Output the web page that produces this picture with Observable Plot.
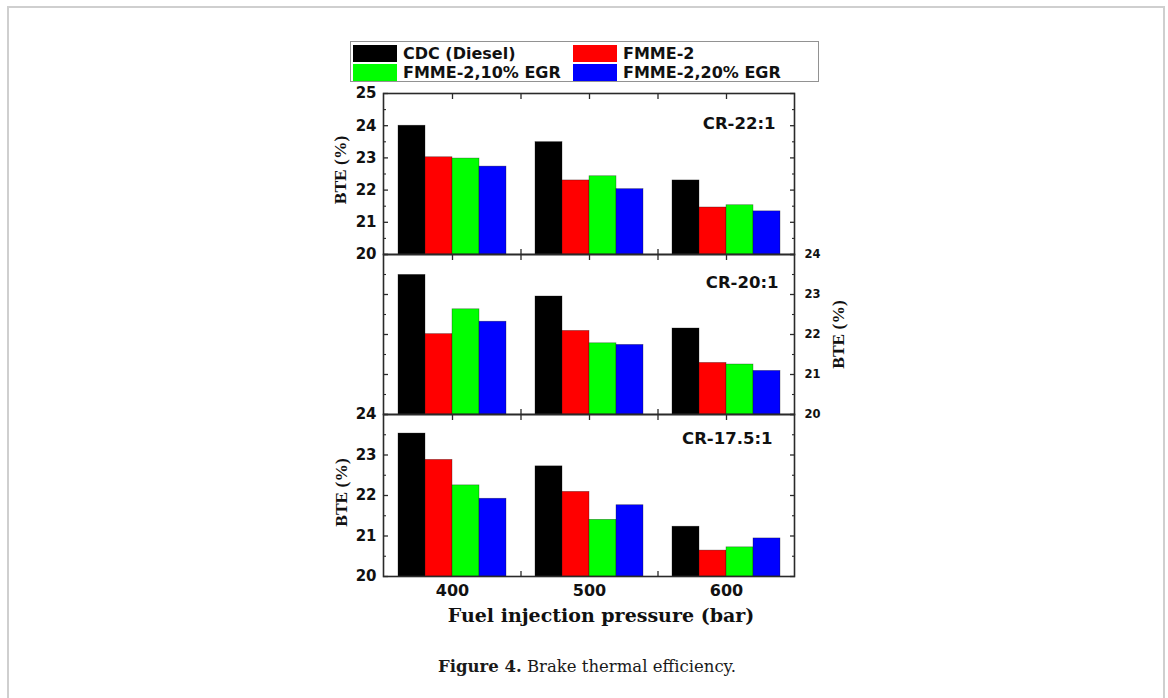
<!DOCTYPE html>
<html>
<head>
<meta charset="utf-8">
<script src="https://cdn.jsdelivr.net/npm/d3@7"></script>
<script src="https://cdn.jsdelivr.net/npm/@observablehq/plot@0.6"></script>
<style>
  body { margin: 0; background: #fff; }
  #page { position: relative; width: 1168px; height: 698px; overflow: hidden; background: #fff; }
  #border { position: absolute; left: 7px; top: 6px; width: 1158px; height: 720px; border: 2px solid #cfcfcf; box-sizing: border-box; }
  #legend { position: absolute; left: 350px; top: 41px; width: 469px; height: 41px; border: 1.5px solid #929292; box-sizing: border-box; }
  .sw { position: absolute; width: 44px; height: 17px; }
  .lt { position: absolute; font: bold 16px "DejaVu Sans"; color: #111; line-height: 17px; white-space: nowrap; }
  .layer { position: absolute; left: 320px; width: 540px; }
  #caption { position: absolute; left: 0; top: 657px; width: 1174px; text-align: center; font: 16.5px "DejaVu Serif"; line-height: 20px; color: #1a1a1a; }
</style>
</head>
<body>
<div id="page">
  <div id="border"></div>
  <div id="legend"></div>
  <div id="caption"></div>
</div>
<script>
// ---------------- data ----------------
const pressures = ["400", "500", "600"];
const series = ["CDC (Diesel)", "FMME-2", "FMME-2,10% EGR", "FMME-2,20% EGR"];
const colors = ["#000000", "#ff0000", "#00ff00", "#0000ff"];
// BTE (%) : rows = injection pressure (400, 500, 600), columns = series
const bteCR22 = [[24.00, 23.02, 22.98, 22.73], [23.49, 22.30, 22.43, 22.03], [22.30, 21.46, 21.53, 21.34]];
const bteCR20 = [[23.49, 22.01, 22.63, 22.32], [22.95, 22.09, 21.78, 21.74], [22.15, 21.29, 21.25, 21.09]];
const bteCR175 = [[23.53, 22.88, 22.25, 21.92], [22.72, 22.09, 21.40, 21.76], [21.23, 20.64, 20.72, 20.94]];
const panelLabels = ["CR-22:1", "CR-20:1", "CR-17.5:1"];
const yTicksTop = [20, 21, 22, 23, 24, 25];
const yMinorTop = [20.5, 21.5, 22.5, 23.5, 24.5];
const yTicks = [20, 21, 22, 23, 24];
const yMinor = [20.5, 21.5, 22.5, 23.5];
const yTitle = "BTE (%)";
const xTitle = "Fuel injection pressure (bar)";
const captionBold = "Figure 4.";
const captionText = " Brake thermal efficiency.";

// ---------------- legend ----------------
const page = document.getElementById("page");
const legCols = [[353, 403], [573, 623]];
const legRows = [[45, 45], [64, 64]];
series.forEach((s, i) => {
  const c = i % 2, r = Math.floor(i / 2);
  const sw = document.createElement("div");
  sw.className = "sw";
  sw.style.left = legCols[c][0] + "px";
  sw.style.top = legRows[r][0] + "px";
  sw.style.background = colors[i];
  page.appendChild(sw);
  const t = document.createElement("div");
  t.className = "lt";
  t.style.left = legCols[c][1] + "px";
  t.style.top = legRows[r][1] + "px";
  t.textContent = s;
  page.appendChild(t);
});
const cap = document.getElementById("caption");
const b = document.createElement("b");
b.textContent = captionBold;
cap.appendChild(b);
cap.appendChild(document.createTextNode(captionText));

// ---------------- panels ----------------
const W = 540, ML = 63, MR = 66;
const step = (W - ML - MR) / pressures.length;
const sans = "DejaVu Sans";
const ink = "#2a2a2a";
const intFmt = (d) => String(d);

function tidy(vals) {
  return pressures.flatMap((p, i) => series.map((s, j) => ({pressure: p, series: s, bte: vals[i][j]})));
}

function panel(o) {
  const data = tidy(o.vals);
  const common = {
    width: W, height: o.height, marginLeft: ML, marginRight: MR, marginTop: o.mt, marginBottom: o.mb,
    style: {background: "transparent", overflow: "visible"}
  };
  // bars layer (grouped via fx facets)
  const bars = Plot.plot({
    ...common,
    fx: {domain: pressures, paddingInner: 0.2, paddingOuter: 0.1, axis: null, label: null},
    x: {domain: series, padding: 0, axis: null},
    y: {domain: o.domain, axis: null},
    color: {domain: series, range: colors},
    marks: [
      Plot.barY(data, {fx: "pressure", x: "series", y1: o.domain[0], y2: "bte", fill: "series",
        stroke: "#111", strokeWidth: 0.6, strokeOpacity: 0.5})
    ]
  });
  // frame / axes layer
  const marks = [
    Plot.frame({stroke: ink, strokeWidth: 1.6}),
    Plot.axisY({anchor: "left", ticks: o.major, tickSize: -5, fill: "none", label: null, stroke: ink, strokeWidth: 1.3}),
    Plot.axisY({anchor: "left", ticks: o.minor, tickSize: -3, fill: "none", label: null, stroke: ink, strokeWidth: 1.1}),
    Plot.axisY({anchor: "right", ticks: o.major, tickSize: -5, fill: "none", label: null, stroke: ink, strokeWidth: 1.3}),
    Plot.axisY({anchor: "right", ticks: o.minor, tickSize: -3, fill: "none", label: null, stroke: ink, strokeWidth: 1.1}),
    Plot.axisX({anchor: "top", tickSize: -5, fill: "none", label: null, stroke: ink, strokeWidth: 1.3}),
    Plot.axisX({anchor: "top", ticks: pressures.slice(0, -1), dx: step / 2, tickSize: -5, fill: "none", label: null, stroke: ink, strokeWidth: 1.3}),
    Plot.axisX({anchor: "bottom", ticks: pressures.slice(0, -1), dx: step / 2, tickSize: -5, fill: "none", label: null, stroke: ink, strokeWidth: 1.3}),
    Plot.text([o.label], {frameAnchor: "top-right", textAnchor: "end", lineAnchor: "middle", dx: o.labelDx, dy: o.labelDy,
      fontFamily: sans, fontWeight: "bold", fontSize: 16.5, fill: "#111"}),
    Plot.text([yTitle], {frameAnchor: o.titleSide, rotate: -90, textAnchor: "middle", lineAnchor: "middle",
      dx: o.titleDx, dy: o.titleDy, fontFamily: "Liberation Serif", fontWeight: "bold", fontSize: 17.5, fill: "#111"})
  ];
  if (o.leftLabels) marks.push(Plot.axisY({anchor: "left", ticks: o.leftLabels, tickFormat: intFmt, tickSize: 0, tickPadding: 7, label: null,
    fontFamily: sans, fontWeight: "bold", fontSize: 15, fill: "#111"}));
  if (o.rightLabels) marks.push(Plot.axisY({anchor: "right", ticks: o.rightLabels, tickFormat: intFmt, tickSize: 0, tickPadding: 10, label: null,
    fontFamily: sans, fontWeight: "bold", fontSize: 11.5, fill: "#111"}));
  if (o.xAxis) {
    marks.push(Plot.axisX({anchor: "bottom", tickSize: 0, tickPadding: 8, label: null,
      fontFamily: sans, fontWeight: "bold", fontSize: 16, fill: "#111"}));
    marks.push(Plot.text([xTitle], {frameAnchor: "bottom", lineAnchor: "middle", dx: 12, dy: 39,
      fontFamily: "DejaVu Serif", fontWeight: "bold", fontSize: 19, fill: "#111"}));
  }
  const axes = Plot.plot({
    ...common,
    x: {domain: pressures, paddingInner: 0.2, paddingOuter: 0.1, axis: null},
    y: {domain: o.domain, axis: null},
    marks
  });
  for (const el of [bars, axes]) {
    const d = document.createElement("div");
    d.className = "layer";
    d.style.top = o.top + "px";
    d.style.height = o.height + "px";
    d.appendChild(el);
    page.appendChild(d);
  }
}

panel({vals: bteCR22, domain: [20, 25], major: yTicksTop, minor: yMinorTop, label: panelLabels[0],
  top: 80, height: 184, mt: 13, mb: 10, leftLabels: yTicksTop, rightLabels: null, titleSide: "left",
  titleDx: -43, titleDy: -4, labelDx: -19, labelDy: 30, xAxis: false});
panel({vals: bteCR20, domain: [20, 24], major: yTicks, minor: yMinor, label: panelLabels[1],
  top: 244, height: 180, mt: 10, mb: 10, leftLabels: null, rightLabels: yTicks, titleSide: "right",
  titleDx: 44, titleDy: 0, labelDx: -16, labelDy: 28, xAxis: false});
panel({vals: bteCR175, domain: [20, 24], major: yTicks, minor: yMinor, label: panelLabels[2],
  top: 404, height: 226, mt: 10, mb: 54, leftLabels: yTicks, rightLabels: null, titleSide: "left",
  titleDx: -42, titleDy: -3, labelDx: -22, labelDy: 24, xAxis: true});
</script>
</body>
</html>
